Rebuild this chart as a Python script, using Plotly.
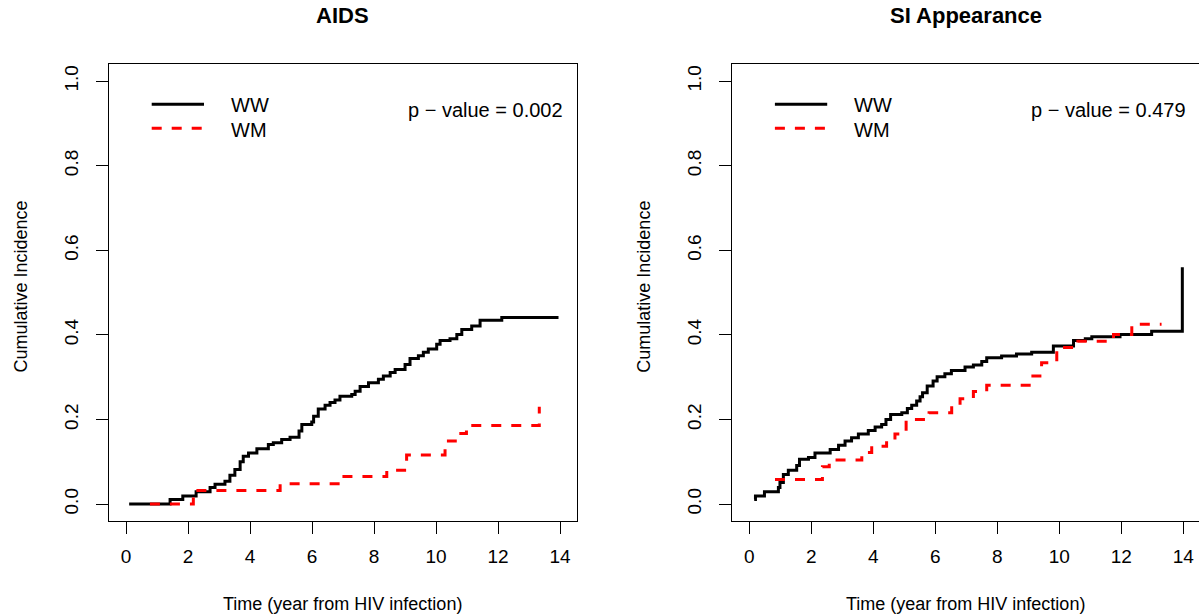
import plotly.graph_objects as go

# ---------------- data ----------------
x_ticks = [0, 2, 4, 6, 8, 10, 12, 14]
y_ticks = [0.0, 0.2, 0.4, 0.6, 0.8, 1.0]
y_tick_labels = ["0.0", "0.2", "0.4", "0.6", "0.8", "1.0"]
panel_titles = ["AIDS", "SI Appearance"]
p_values = ["0.002", "0.479"]
series_names = ["WW", "WM"]

# AIDS panel
aids_ww_t = [0.1, 1.42, 1.83, 2.26, 2.71, 2.87, 3.19, 3.35, 3.51, 3.68, 3.78, 3.95, 4.22, 4.59,
             4.75, 5.02, 5.29, 5.58, 5.67, 5.99, 6.05, 6.2, 6.42, 6.58, 6.74, 6.9, 7.28, 7.39,
             7.55, 7.82, 8.14, 8.3, 8.52, 8.68, 9.0, 9.16, 9.43, 9.59, 9.75, 10.02, 10.13, 10.45,
             10.67, 10.83, 11.15, 11.42, 12.12, 13.95]
aids_ww_ci = [0.0, 0.011, 0.019, 0.029, 0.039, 0.047, 0.054, 0.068, 0.082, 0.100, 0.113, 0.121,
              0.131, 0.141, 0.145, 0.153, 0.158, 0.173, 0.188, 0.194, 0.208, 0.225, 0.234, 0.240,
              0.246, 0.255, 0.259, 0.267, 0.278, 0.287, 0.295, 0.303, 0.311, 0.318, 0.330, 0.344,
              0.351, 0.359, 0.367, 0.378, 0.387, 0.391, 0.401, 0.413, 0.421, 0.435, 0.441, 0.441]
aids_wm_t = [0.77, 2.17, 4.97, 6.96, 8.41, 9.05, 10.29, 10.62, 10.98, 13.33]
aids_wm_ci = [0.0, 0.032, 0.048, 0.065, 0.080, 0.116, 0.149, 0.167, 0.186, 0.230]

# SI appearance panel
si_ww_t = [0.16, 0.2, 0.49, 0.94, 0.99, 1.1, 1.26, 1.53, 1.62, 1.91, 2.12, 2.61, 2.88, 3.09, 3.3,
           3.52, 3.84, 4.06, 4.27, 4.41, 4.56, 4.92, 5.1, 5.24, 5.4, 5.51, 5.59, 5.74, 5.93, 6.06,
           6.31, 6.52, 6.96, 7.23, 7.5, 7.66, 8.14, 8.62, 9.11, 9.81, 10.46, 10.84, 11.05, 11.96,
           12.98, 13.97]
si_ww_ci = [0.011, 0.019, 0.029, 0.039, 0.051, 0.070, 0.080, 0.091, 0.106, 0.110, 0.121, 0.129,
            0.139, 0.149, 0.157, 0.166, 0.174, 0.182, 0.188, 0.200, 0.212, 0.216, 0.226, 0.234,
            0.244, 0.254, 0.263, 0.279, 0.291, 0.301, 0.308, 0.316, 0.324, 0.329, 0.337, 0.346,
            0.350, 0.355, 0.359, 0.374, 0.387, 0.391, 0.396, 0.401, 0.409, 0.560]
si_wm_t = [0.83, 2.36, 2.58, 3.63, 3.95, 4.43, 4.70, 5.06, 5.80, 6.53, 6.80, 7.23, 7.66, 9.08,
           9.43, 9.92, 10.60, 11.75, 12.34, 13.30]
si_wm_ci = [0.058, 0.088, 0.104, 0.122, 0.137, 0.150, 0.166, 0.200, 0.216, 0.232, 0.249, 0.266,
            0.281, 0.303, 0.334, 0.370, 0.385, 0.401, 0.425, 0.425]

# ---------------- figure ----------------
W, H = 1199, 615
FONT = "Liberation Sans, Arial, Helvetica, sans-serif"


def fx(p):
    return p / W


def fy(p):
    return 1 - p / H


fig = go.Figure()
black_style = dict(color="black", width=3, shape="hv")
red_style = dict(color="red", width=3, dash="10px,10px", shape="hv")

fig.add_trace(go.Scatter(x=aids_ww_t, y=aids_ww_ci, mode="lines", line=black_style,
                         name=series_names[0], xaxis="x", yaxis="y"))
fig.add_trace(go.Scatter(x=aids_wm_t, y=aids_wm_ci, mode="lines", line=red_style,
                         name=series_names[1], xaxis="x", yaxis="y"))
fig.add_trace(go.Scatter(x=si_ww_t, y=si_ww_ci, mode="lines", line=black_style,
                         name=series_names[0], xaxis="x2", yaxis="y2"))
fig.add_trace(go.Scatter(x=si_wm_t, y=si_wm_ci, mode="lines", line=red_style,
                         name=series_names[1], xaxis="x2", yaxis="y2"))

box_left = [108.7, 731.9]
box_right = [576.7, 1199.0]
box_top, box_bottom = 64.3, 521.0
px_per_unit = 31.0
x_min = -0.56

common_x = dict(tickvals=x_ticks, ticks="outside", ticklen=12, tickwidth=1, tickcolor="black",
                showline=True, linecolor="black", linewidth=1, showgrid=False, zeroline=False,
                ticklabelstandoff=6,
                tickfont=dict(family=FONT, size=19, color="black"), fixedrange=True)
common_y = dict(tickvals=y_ticks, ticktext=y_tick_labels, tickangle=-90, ticks="outside",
                ticklen=12, tickwidth=1, tickcolor="black", showline=True, linecolor="black",
                linewidth=1, showgrid=False, zeroline=False, range=[-0.04, 1.04],
                domain=[fy(box_bottom), fy(box_top)], ticklabelstandoff=10,
                tickfont=dict(family=FONT, size=19, color="black"), fixedrange=True)

fig.update_layout(
    width=W, height=H,
    margin=dict(l=0, r=0, t=0, b=0),
    paper_bgcolor="white", plot_bgcolor="white",
    showlegend=False,
    font=dict(family=FONT, color="black"),
    xaxis=dict(common_x, domain=[fx(box_left[0]), fx(box_right[0])], anchor="y", mirror=True,
               range=[x_min, x_min + (box_right[0] - box_left[0]) / px_per_unit]),
    yaxis=dict(common_y, anchor="x", mirror=True),
    xaxis2=dict(common_x, domain=[fx(box_left[1]), 1.0], anchor="y2", mirror=True,
                range=[x_min, x_min + (box_right[1] - box_left[1]) / px_per_unit]),
    yaxis2=dict(common_y, anchor="x2", mirror=False),
)

annotations = []
shapes = []
for i in range(2):
    off = box_left[i] - box_left[0]
    cx = (box_left[i] + box_left[i] + 468.0) / 2
    # panel title
    annotations.append(dict(text="<b>" + panel_titles[i] + "</b>", x=fx(cx), y=fy(16),
                            xref="paper", yref="paper", xanchor="center", yanchor="middle",
                            showarrow=False, font=dict(family=FONT, size=22, color="black")))
    # x axis title
    annotations.append(dict(text="Time (year from HIV infection)", x=fx(cx), y=fy(604),
                            xref="paper", yref="paper", xanchor="center", yanchor="middle",
                            showarrow=False, font=dict(family=FONT, size=18, color="black")))
    # y axis title
    annotations.append(dict(text="Cumulative Incidence", x=fx(20.5 + off), y=fy(287),
                            xref="paper", yref="paper", xanchor="center", yanchor="middle",
                            textangle=-90, showarrow=False,
                            font=dict(family=FONT, size=18, color="black")))
    # p-value
    annotations.append(dict(text="p \u2212 value = " + p_values[i], x=fx(565 + off), y=fy(110),
                            xref="paper", yref="paper", xanchor="right", yanchor="middle",
                            showarrow=False, font=dict(family=FONT, size=20, color="black")))
    # legend
    shapes.append(dict(type="line", xref="paper", yref="paper", x0=fx(151.7 + off),
                       x1=fx(204 + off), y0=fy(104.3), y1=fy(104.3),
                       line=dict(color="black", width=3)))
    shapes.append(dict(type="line", xref="paper", yref="paper", x0=fx(151.7 + off),
                       x1=fx(204 + off), y0=fy(128.3), y1=fy(128.3),
                       line=dict(color="red", width=3, dash="10px,10px")))
    annotations.append(dict(text=series_names[0], x=fx(229 + off), y=fy(105.5),
                            xref="paper", yref="paper", xanchor="left", yanchor="middle",
                            showarrow=False, font=dict(family=FONT, size=20, color="black")))
    annotations.append(dict(text=series_names[1], x=fx(229 + off), y=fy(129.5),
                            xref="paper", yref="paper", xanchor="left", yanchor="middle",
                            showarrow=False, font=dict(family=FONT, size=20, color="black")))

fig.update_layout(annotations=annotations, shapes=shapes)
fig.write_html("out.html")
